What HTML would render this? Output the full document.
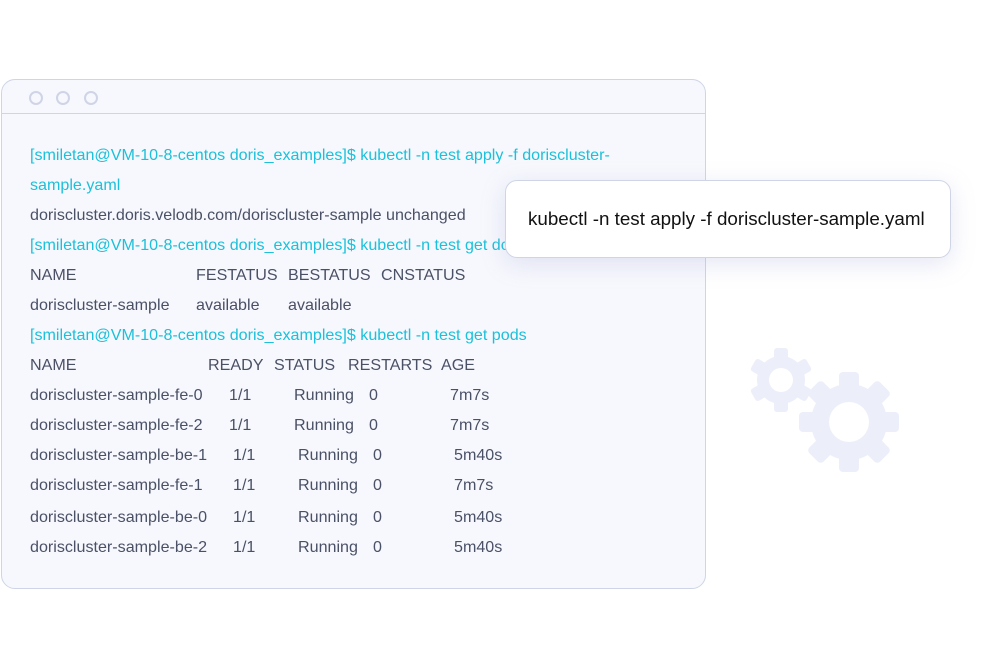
<!DOCTYPE html>
<html><head><style>
body{margin:0;width:984px;height:652px;background:#fff;position:relative;overflow:hidden;font-family:"Liberation Sans",Arial,sans-serif}
.win{position:absolute;left:1px;top:79px;width:703px;height:508px;border:1.5px solid #cfd5e6;border-radius:14px;background:#f7f8fd}
.bar{position:absolute;left:0;top:0;right:0;height:33px;border-bottom:1.5px solid #cfd5e6}
.dot{position:absolute;top:11px;width:10px;height:10px;border:2px solid #cfd5e6;border-radius:50%}
.t{position:absolute;font-size:16.1px;color:#4a5166;white-space:nowrap;line-height:18px}
.c{color:#1cc0da}
.pop{position:absolute;left:505px;top:180px;width:444px;height:76px;border:1.5px solid #cfd5e6;border-radius:12px;background:#fff;box-shadow:0 6px 24px rgba(150,160,210,.25)}
.pop span{position:absolute;left:22px;top:27px;font-size:18.8px;color:#111;white-space:nowrap}
</style></head><body>
<div class="win"><div class="bar">
<div class="dot" style="left:27px"></div><div class="dot" style="left:54px"></div><div class="dot" style="left:82px"></div></div></div>
<svg style="position:absolute;left:0;top:0" width="984" height="652">
<g fill="#eceef9">
<g transform="translate(781,380)">
<circle r="24"/>
<g id="ts"><rect x="-7" y="-32" width="14" height="14" rx="3"/></g>
<use href="#ts" transform="rotate(60)"/><use href="#ts" transform="rotate(120)"/><use href="#ts" transform="rotate(180)"/><use href="#ts" transform="rotate(240)"/><use href="#ts" transform="rotate(300)"/>
<circle r="12" fill="#fff"/>
</g>
<g transform="translate(849,422)">
<circle r="38"/>
<g id="tb"><rect x="-10" y="-50" width="20" height="18" rx="4"/></g>
<use href="#tb" transform="rotate(45)"/><use href="#tb" transform="rotate(90)"/><use href="#tb" transform="rotate(135)"/><use href="#tb" transform="rotate(180)"/><use href="#tb" transform="rotate(225)"/><use href="#tb" transform="rotate(270)"/><use href="#tb" transform="rotate(315)"/>
<circle r="20" fill="#fff"/>
</g></g></svg>
<div class="t c" style="left:30px;top:146px">[smiletan@VM-10-8-centos doris_examples]$ kubectl -n test apply -f doriscluster-</div>
<div class="t c" style="left:30px;top:176px">sample.yaml</div>
<div class="t" style="left:30px;top:206px">doriscluster.doris.velodb.com/doriscluster-sample unchanged</div>
<div class="t c" style="left:30px;top:236px">[smiletan@VM-10-8-centos doris_examples]$ kubectl -n test get dcr</div>
<div class="t" style="left:30px;top:266px">NAME</div><div class="t" style="left:196px;top:266px">FESTATUS</div><div class="t" style="left:288px;top:266px">BESTATUS</div><div class="t" style="left:381px;top:266px">CNSTATUS</div>
<div class="t" style="left:30px;top:296px">doriscluster-sample</div><div class="t" style="left:196px;top:296px">available</div><div class="t" style="left:288px;top:296px">available</div>
<div class="t c" style="left:30px;top:326px">[smiletan@VM-10-8-centos doris_examples]$ kubectl -n test get pods</div>
<div class="t" style="left:30px;top:356px">NAME</div><div class="t" style="left:208px;top:356px">READY</div><div class="t" style="left:274px;top:356px">STATUS</div><div class="t" style="left:348px;top:356px">RESTARTS</div><div class="t" style="left:441px;top:356px">AGE</div>
<div class="t" style="left:30px;top:386px">doriscluster-sample-fe-0</div><div class="t" style="left:229px;top:386px">1/1</div><div class="t" style="left:294px;top:386px">Running</div><div class="t" style="left:369px;top:386px">0</div><div class="t" style="left:450px;top:386px">7m7s</div>
<div class="t" style="left:30px;top:416px">doriscluster-sample-fe-2</div><div class="t" style="left:229px;top:416px">1/1</div><div class="t" style="left:294px;top:416px">Running</div><div class="t" style="left:369px;top:416px">0</div><div class="t" style="left:450px;top:416px">7m7s</div>
<div class="t" style="left:30px;top:446px">doriscluster-sample-be-1</div><div class="t" style="left:233px;top:446px">1/1</div><div class="t" style="left:298px;top:446px">Running</div><div class="t" style="left:373px;top:446px">0</div><div class="t" style="left:454px;top:446px">5m40s</div>
<div class="t" style="left:30px;top:476px">doriscluster-sample-fe-1</div><div class="t" style="left:233px;top:476px">1/1</div><div class="t" style="left:298px;top:476px">Running</div><div class="t" style="left:373px;top:476px">0</div><div class="t" style="left:454px;top:476px">7m7s</div>
<div class="t" style="left:30px;top:508px">doriscluster-sample-be-0</div><div class="t" style="left:233px;top:508px">1/1</div><div class="t" style="left:298px;top:508px">Running</div><div class="t" style="left:373px;top:508px">0</div><div class="t" style="left:454px;top:508px">5m40s</div>
<div class="t" style="left:30px;top:538px">doriscluster-sample-be-2</div><div class="t" style="left:233px;top:538px">1/1</div><div class="t" style="left:298px;top:538px">Running</div><div class="t" style="left:373px;top:538px">0</div><div class="t" style="left:454px;top:538px">5m40s</div>
<div class="pop"><span>kubectl -n test apply -f doriscluster-sample.yaml</span></div>
</body></html>
